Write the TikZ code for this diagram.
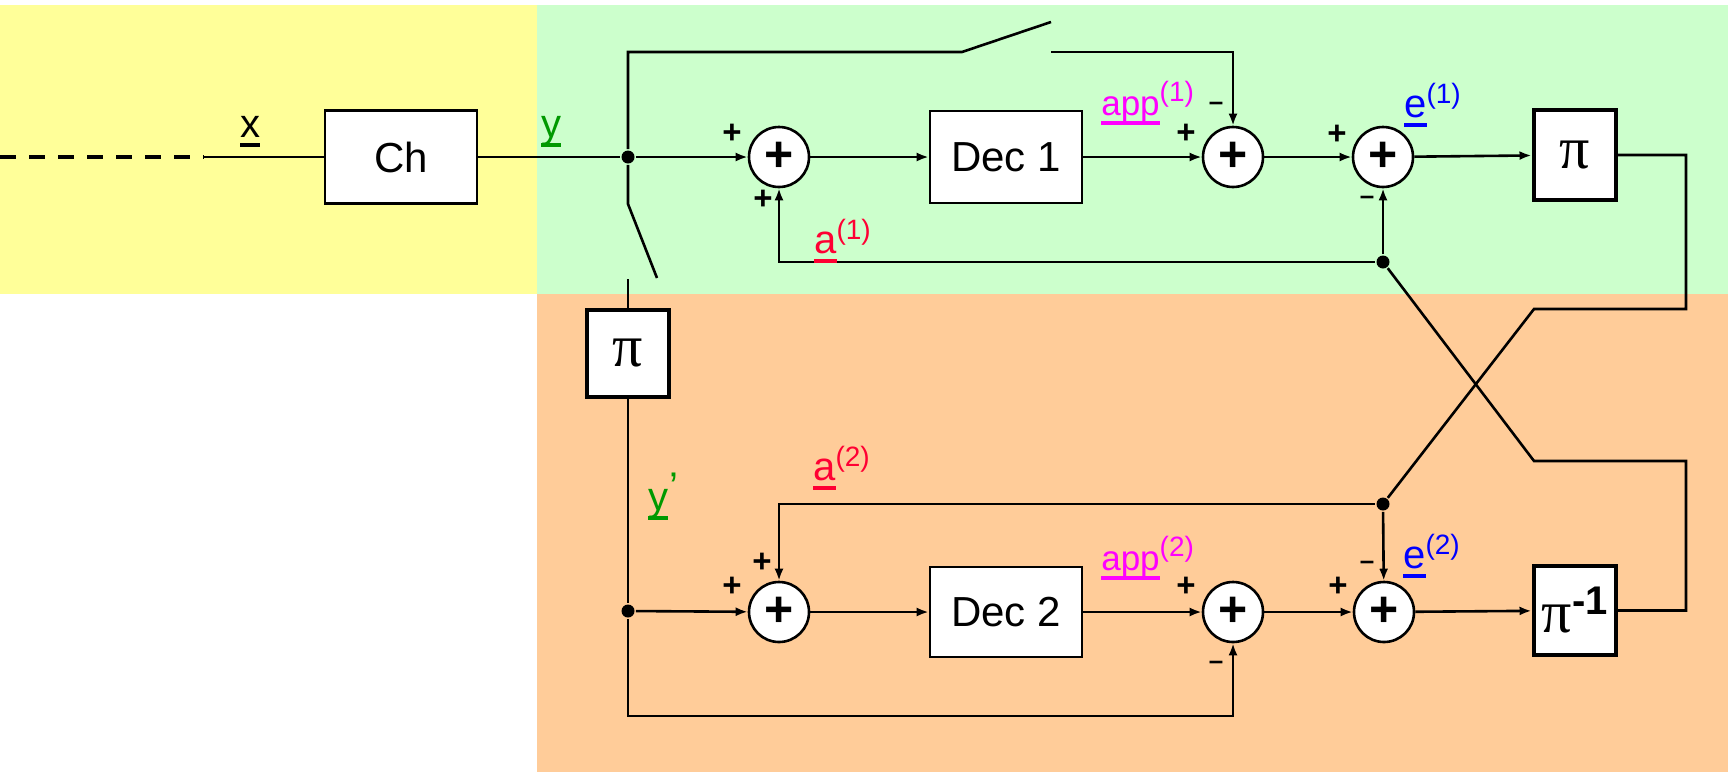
\documentclass[tikz,border=0pt]{standalone}
\usepackage{fontspec}
\setmainfont{Liberation Sans}
\newfontfamily\grk{Liberation Serif}
\usetikzlibrary{arrows.meta}
\definecolor{bgyellow}{HTML}{FFFF99}
\definecolor{bggreen}{HTML}{CCFFCC}
\definecolor{bgorange}{HTML}{FFCC99}
\definecolor{tgreen}{HTML}{009900}
\definecolor{tmag}{HTML}{FF00FF}
\definecolor{tred}{HTML}{FF0033}
\definecolor{tblue}{HTML}{0000FF}
\newcommand{\ulx}[1]{\setbox0\hbox{#1}\rlap{\rule[-9.5pt]{\wd0}{3.5pt}}\box0}
\newcommand{\sig}[3]{\ulx{#1}\raisebox{#3}{\fontsize{28}{30}\selectfont(#2)}}
\begin{document}
\begin{tikzpicture}[x=1pt,y=-1pt, line width=2.6pt,
  >={Latex[length=12pt,width=9pt]},
  box/.style={draw, fill=white, line width=2.6pt, inner sep=0pt, font=\fontsize{42}{46}\selectfont},
  pibox/.style={box, line width=4pt, font=\grk\fontsize{60}{60}\selectfont},
  sum/.style={draw, fill=white, circle, minimum size=60pt, inner sep=0pt, line width=2.6pt, font=\bfseries\fontsize{50}{50}\selectfont},
  jdot/.style={circle, fill=black, inner sep=0pt, minimum size=13pt},
  sgn/.style={inner sep=0pt, font=\bfseries\fontsize{33}{33}\selectfont},
  msgn/.style={inner sep=0pt, font=\bfseries\fontsize{26}{26}\selectfont},
  lbl/.style={inner sep=0pt, anchor=base west, font=\fontsize{40}{44}\selectfont},
  slbl/.style={lbl, font=\fontsize{35}{40}\selectfont},
  ]
\useasboundingbox (0,0) rectangle (1728,772);
\fill[white] (0,0) rectangle (1728,772);
\fill[bgyellow] (0,5) rectangle (537,294);
\fill[bggreen] (537,5) rectangle (1728,294);
\fill[bgorange] (537,294) rectangle (1728,772);

% blocks
\node[box, minimum width=152pt, minimum height=93pt] (ch) at (401,157) {Ch};
\node[box, minimum width=152pt, minimum height=92pt] (dec1) at (1006,157) {Dec 1};
\node[box, minimum width=152pt, minimum height=90pt] (dec2) at (1006,612) {Dec 2};
\node[pibox, minimum width=82pt, minimum height=90pt] (pitop) at (1574.5,155) {π};
\node[pibox, minimum width=82pt, minimum height=87pt] (pileft) at (628,353.5) {π};
\node[pibox, minimum width=82pt, minimum height=89pt] (piinv) at (1574.5,610.5)
  {π\kern1pt\raisebox{18pt}{\rmfamily\bfseries\fontsize{40}{40}\selectfont -1}};

% adders
\node[sum] (a1) at (779,157) {+};
\node[sum] (a2) at (1233,157) {+};
\node[sum] (a3) at (1383,157) {+};
\node[sum] (b1) at (779,612) {+};
\node[sum] (b2) at (1233,612) {+};
\node[sum] (b3) at (1384,612) {+};

% junctions
\node[jdot] (jy) at (628,157) {};
\node[jdot] (jy2) at (628,611) {};
\node[jdot] (ja1) at (1383,262) {};
\node[jdot] (ja2) at (1383,504) {};

% coordinates
\coordinate (xs) at (0,157);
\coordinate (xe) at (204,157);
\coordinate (up1) at (628,52);
\coordinate (sw1a) at (962,52);
\coordinate (sw1b) at (1051,22);
\coordinate (sw1c) at (1051,52);
\coordinate (sw2a) at (628,204);
\coordinate (sw2b) at (657,278);
\coordinate (sw2c) at (628,279);
\coordinate (bot1) at (628,716);
\coordinate (bot2) at (1233,716);
\coordinate (cr1) at (1686,309);
\coordinate (cr2) at (1534,309);
\coordinate (cr3) at (1686,461);
\coordinate (cr4) at (1534,461);

% input
\draw[line width=4pt, dash pattern=on 16pt off 13pt] (xs) -- (xe);
\draw (xe) -- (ch);
\draw (ch) -- (jy);

% upper branch
\draw[->] (jy) -- (a1);
\draw[->] (a1) -- (dec1);
\draw[->] (dec1) -- (a2);
\draw[->] (a2) -- (a3);
\draw[->] (a3) -- (pitop);
\draw (jy) -- (up1) -- (sw1a) -- (sw1b);
\draw[->] (sw1c) -| (a2);
\draw[->] (ja1) -| (a1);
\draw[->] (ja1) -- (a3);

% switch to lower branch
\draw (jy) -- (sw2a) -- (sw2b);
\draw (sw2c) -- (pileft);
\draw (pileft) -- (jy2);

% lower branch
\draw[->] (jy2) -- (b1);
\draw[->] (b1) -- (dec2);
\draw[->] (dec2) -- (b2);
\draw[->] (b2) -- (b3);
\draw[->] (b3) -- (piinv);
\draw[->] (jy2) -- (bot1) -- (bot2) -- (b2);
\draw[->] (ja2) -| (b1);
\draw[->] (ja2) -- (b3);

% crossing
\draw (pitop.east) -| (cr1) -- (cr2) -- (ja2);
\draw (piinv.east) -| (cr3) -- (cr4) -- (ja1);

% signs
\node[sgn] (s1) at (732,134) {+};
\node[sgn] (s2) at (763,200) {+};
\node[sgn] (s3) at (1186,134) {+};
\node[msgn] (s4) at (1216,106) {–};
\node[sgn] (s5) at (1337,135) {+};
\node[msgn] (s6) at (1367,200) {–};
\node[sgn] (s7) at (762,563) {+};
\node[sgn] (s8) at (732,587) {+};
\node[sgn] (s9) at (1186,587) {+};
\node[msgn] (s10) at (1216,665) {–};
\node[sgn] (s11) at (1338,587) {+};
\node[msgn] (s12) at (1367,565) {–};

% labels
\node[lbl] (lx) at (239,137) {\ulx{x}};
\node[lbl, text=tgreen] (ly) at (540,137) {\ulx{y}};
\node[lbl, text=tgreen] (ly2) at (647,510) {\ulx{y}\kern1pt\raisebox{10pt}{'}};
\node[slbl, text=tmag] (app1) at (1100,115) {\sig{app}{1}{14pt}};
\node[slbl, text=tmag] (app2) at (1100,570) {\sig{app}{2}{14pt}};
\node[lbl, text=tred] (la1) at (813,253) {\sig{a}{1}{14pt}};
\node[lbl, text=tred] (la2) at (812,480) {\sig{a}{2}{14pt}};
\node[lbl, text=tblue] (le1) at (1403,117) {\sig{e}{1}{14pt}};
\node[lbl, text=tblue] (le2) at (1402,568) {\sig{e}{2}{14pt}};
\end{tikzpicture}
\end{document}
